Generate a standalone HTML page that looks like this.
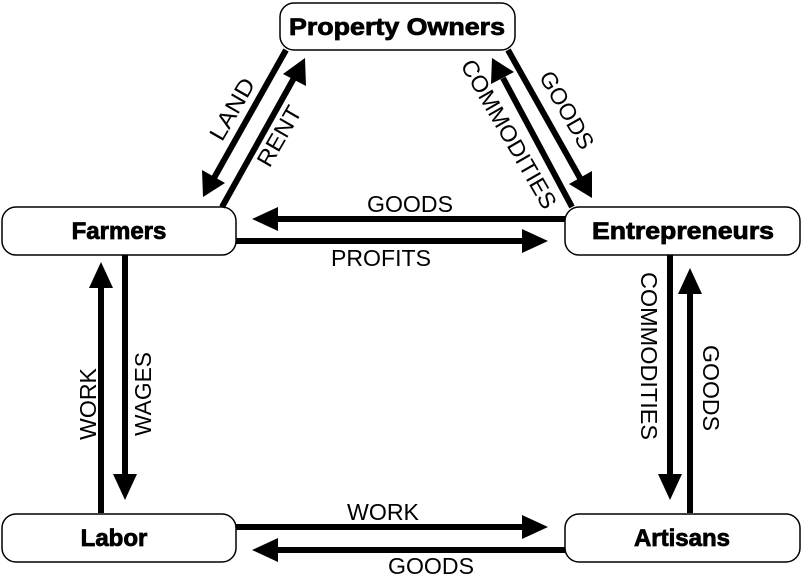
<!DOCTYPE html>
<html><head><style>body{margin:0;background:#fff}svg{display:block}</style></head><body>
<svg width="802" height="579" viewBox="0 0 802 579" xmlns="http://www.w3.org/2000/svg">
<g fill="#fff" stroke="#000" stroke-width="1.5">
<rect x="280" y="3" width="235" height="47" rx="14"/>
<rect x="2" y="207" width="234" height="48" rx="14"/>
<rect x="565" y="207" width="235" height="48" rx="14"/>
<rect x="2" y="514" width="234" height="48" rx="14"/>
<rect x="565" y="514" width="235" height="48" rx="14"/>
</g>
<g font-family="Liberation Sans, sans-serif" font-weight="bold" font-size="24" text-anchor="middle" stroke="#000" stroke-width="0.8">
<text x="397" y="35" textLength="216" lengthAdjust="spacingAndGlyphs">Property Owners</text>
<text x="119" y="239">Farmers</text>
<text x="683" y="239" textLength="182" lengthAdjust="spacingAndGlyphs">Entrepreneurs</text>
<text x="114" y="546">Labor</text>
<text x="682" y="546">Artisans</text>
</g>
<g stroke="#000" stroke-width="6">
<line x1="286" y1="50" x2="214" y2="178"/>
<line x1="222" y1="207" x2="294" y2="78"/>
<line x1="572" y1="207" x2="503" y2="78"/>
<line x1="508" y1="50" x2="580" y2="178"/>
<line x1="565" y1="219" x2="275" y2="219"/>
<line x1="236" y1="241" x2="525" y2="241"/>
<line x1="101" y1="513" x2="101" y2="285"/>
<line x1="125" y1="255" x2="125" y2="477"/>
<line x1="670" y1="255" x2="670" y2="477"/>
<line x1="690" y1="513" x2="690" y2="290"/>
<line x1="236" y1="527" x2="525" y2="527"/>
<line x1="565" y1="550" x2="275" y2="550"/>
</g>
<g fill="#000">
<polygon points="203,197 202,170 225,183"/>
<polygon points="305,58 283,74 306,86"/>
<polygon points="492,58 491,84 514,72"/>
<polygon points="592,198 569,184 592,171"/>
<polygon points="252,219 278,207 278,231"/>
<polygon points="548,241 522,229 522,253"/>
<polygon points="101,262 89,288 113,288"/>
<polygon points="125,500 113,474 137,474"/>
<polygon points="670,500 658,474 682,474"/>
<polygon points="690,268 678,294 702,294"/>
<polygon points="548,527 522,515 522,539"/>
<polygon points="252,550 278,538 278,562"/>
</g>
<g font-family="Liberation Sans, sans-serif" font-size="23" text-anchor="middle">
<text x="410" y="212" textLength="86" lengthAdjust="spacingAndGlyphs">GOODS</text>
<text x="381" y="266" textLength="100" lengthAdjust="spacingAndGlyphs">PROFITS</text>
<text x="383" y="520" textLength="72" lengthAdjust="spacingAndGlyphs">WORK</text>
<text x="431" y="574" textLength="86" lengthAdjust="spacingAndGlyphs">GOODS</text>
<text transform="translate(96,404) rotate(-90)" textLength="72" lengthAdjust="spacingAndGlyphs">WORK</text>
<text transform="translate(151,394) rotate(-90)" textLength="84" lengthAdjust="spacingAndGlyphs">WAGES</text>
<text transform="translate(641,356) rotate(90)" textLength="168" lengthAdjust="spacingAndGlyphs">COMMODITIES</text>
<text transform="translate(703,388) rotate(90)" textLength="86" lengthAdjust="spacingAndGlyphs">GOODS</text>
<text transform="translate(239,113) rotate(-60)" textLength="68" lengthAdjust="spacingAndGlyphs">LAND</text>
<text transform="translate(286,140) rotate(-60)" textLength="66" lengthAdjust="spacingAndGlyphs">RENT</text>
<text transform="translate(502,138) rotate(60)" textLength="168" lengthAdjust="spacingAndGlyphs">COMMODITIES</text>
<text transform="translate(560,114) rotate(60)" textLength="86" lengthAdjust="spacingAndGlyphs">GOODS</text>
</g>
</svg>
</body></html>
